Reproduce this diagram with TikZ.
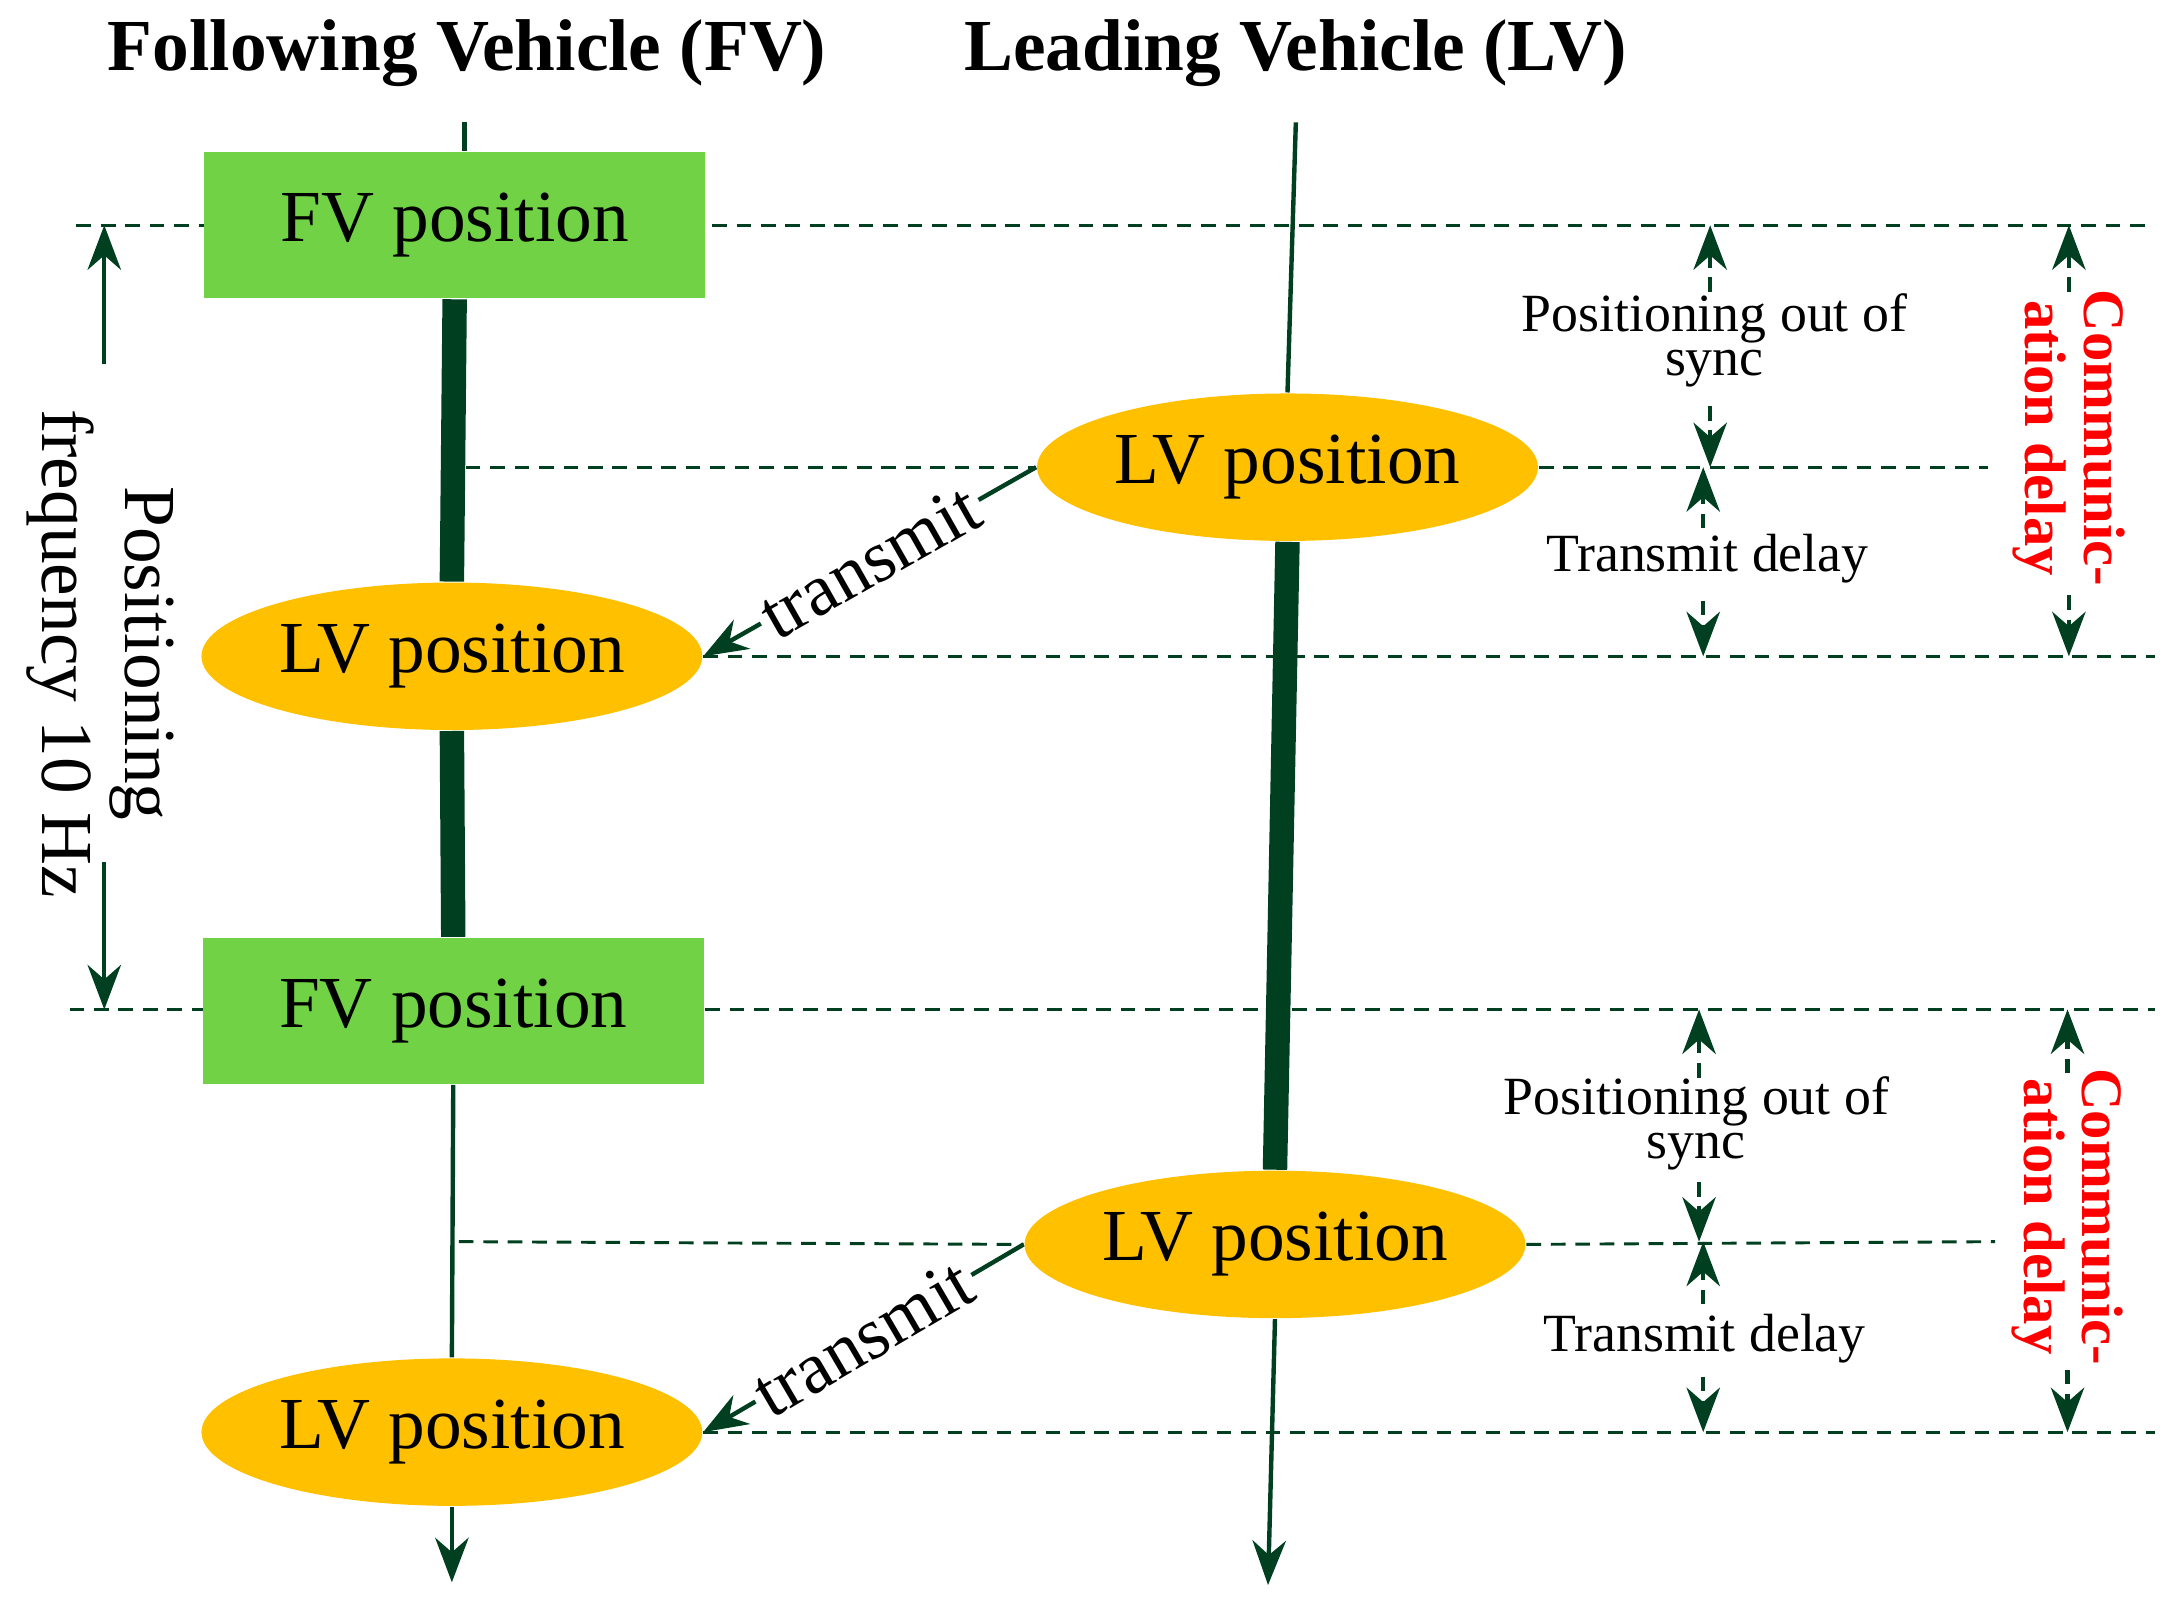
\documentclass[tikz,border=0pt]{standalone}
\usepackage{fontspec}
\setmainfont{Liberation Serif}
\usetikzlibrary{shapes.geometric,arrows.meta}
\definecolor{dgreen}{RGB}{0,64,32}
\definecolor{fvgreen}{RGB}{112,210,68}
\definecolor{lvorange}{RGB}{255,192,0}
\tikzset{
  fvbox/.style={fill=fvgreen, minimum width=3.6cm, minimum height=1.05cm, font=\fontsize{15}{17}\selectfont},
  lvell/.style={ellipse, fill=lvorange, minimum width=3.6cm, minimum height=1.06cm, inner sep=0pt, font=\fontsize{15}{17}\selectfont},
  guide/.style={dgreen, densely dashed, line width=0.6pt},
  tick/.style={dgreen, line width=0.9pt, -{Stealth[length=3.2mm,width=2.4mm]}},
  dtick/.style={tick, densely dashed},
  note/.style={font=\fontsize{11}{12}\selectfont, align=center},
  sendlabel/.style={sloped, midway, text=black, font=\fontsize{15}{17}\selectfont, fill=white, inner sep=1pt},
  rednote/.style={font=\bfseries\fontsize{12}{12}\selectfont, text=red, align=center, rotate=-90}
}
\begin{document}
\begin{tikzpicture}[x=0.01cm, y=-0.01cm]
  \useasboundingbox (0,0) rectangle (1560,1150);

  % Titles
  \node[font=\bfseries\fontsize{15}{17}\selectfont] (fvt) at (336,38) {Following Vehicle (FV)};
  \node[font=\bfseries\fontsize{15}{17}\selectfont] (lvt) at (932,38) {Leading Vehicle (LV)};

  % Horizontal guides
  \draw[guide] (55,162) -- (1545,162);
  \draw[guide] (50,726) -- (1550,726);

  % Nodes
  \node[fvbox] (fv1) at (327,162) {FV position};
  \node[fvbox] (fv2) at (326,727) {FV position};
  \node[lvell] (lvf1) at (325,472) {LV position};
  \node[lvell] (lvf2) at (325,1030) {LV position};
  \node[lvell] (lvl1) at (926,336) {LV position};
  \node[lvell] (lvl2) at (917,895) {LV position};

  % Other guides
  \draw[guide] (335,336) -- (lvl1.west);
  \draw[guide] (lvl1.east) -- (1430,336);
  \draw[guide] (lvf1.east) -- (1550,472);
  \draw[guide] (330,893) -- (lvl2.west);
  \draw[guide] (lvl2.east) -- (1435,893);
  \draw[guide] (lvf2.east) -- (1550,1030);

  % FV time line
  \coordinate (fvtop) at (334,88);
  \coordinate (fvend) at (325,1138);
  \draw[dgreen, line width=0.9pt] (fvtop) -- (fvtop |- fv1.north);
  \draw[dgreen, line width=5pt] (fv1.south) -- (lvf1.north);
  \draw[dgreen, line width=5pt] (lvf1.south) -- (fv2.north);
  \draw[dgreen, line width=0.9pt] (fv2.south) -- (lvf2.north);
  \draw[tick] (lvf2.south) -- (fvend);

  % LV time line
  \coordinate (lvtop) at (932,88);
  \coordinate (lvend) at (912,1140);
  \draw[dgreen, line width=0.9pt] (lvtop) -- (lvl1.north);
  \draw[dgreen, line width=5pt] (lvl1.south) -- (lvl2.north);
  \draw[tick] (lvl2.south) -- (lvend);

  % Transmit
  \draw[tick] (lvl1.west) -- node[sendlabel] {transmit} (lvf1.east);
  \draw[tick] (lvl2.west) -- node[sendlabel] {transmit} (lvf2.east);

  % Positioning frequency
  \draw[tick] (75,262) -- (75,162);
  \draw[tick] (75,620) -- (75,726);
  \node[note, font=\fontsize{15}{17}\selectfont, rotate=-90] (freq) at (72,470) {Positioning\\frequency 10 Hz};

  % Delays, upper
  \draw[dtick] (1230,210) -- (1230,162);
  \draw[dtick] (1230,292) -- (1230,336);
  \node[note] (sync1) at (1233,245) {Positioning out of\\[-3pt]sync};
  \draw[dtick] (1225,380) -- (1225,336);
  \draw[dtick] (1225,432) -- (1225,472);
  \node[note] (tdel1) at (1228,402) {Transmit delay};
  \draw[dtick] (1488,210) -- (1488,162);
  \draw[dtick] (1488,428) -- (1488,472);
  \node[rednote] (com1) at (1488,315) {Communic-\\ation delay};

  % Delays, lower
  \draw[dtick] (1222,775) -- (1222,726);
  \draw[dtick] (1222,850) -- (1222,893);
  \node[note] (sync2) at (1220,808) {Positioning out of\\[-3pt]sync};
  \draw[dtick] (1225,938) -- (1225,893);
  \draw[dtick] (1225,990) -- (1225,1030);
  \node[note] (tdel2) at (1226,963) {Transmit delay};
  \draw[dtick] (1487,772) -- (1487,726);
  \draw[dtick] (1487,985) -- (1487,1030);
  \node[rednote] (com2) at (1487,875) {Communic-\\ation delay};
\end{tikzpicture}
\end{document}
